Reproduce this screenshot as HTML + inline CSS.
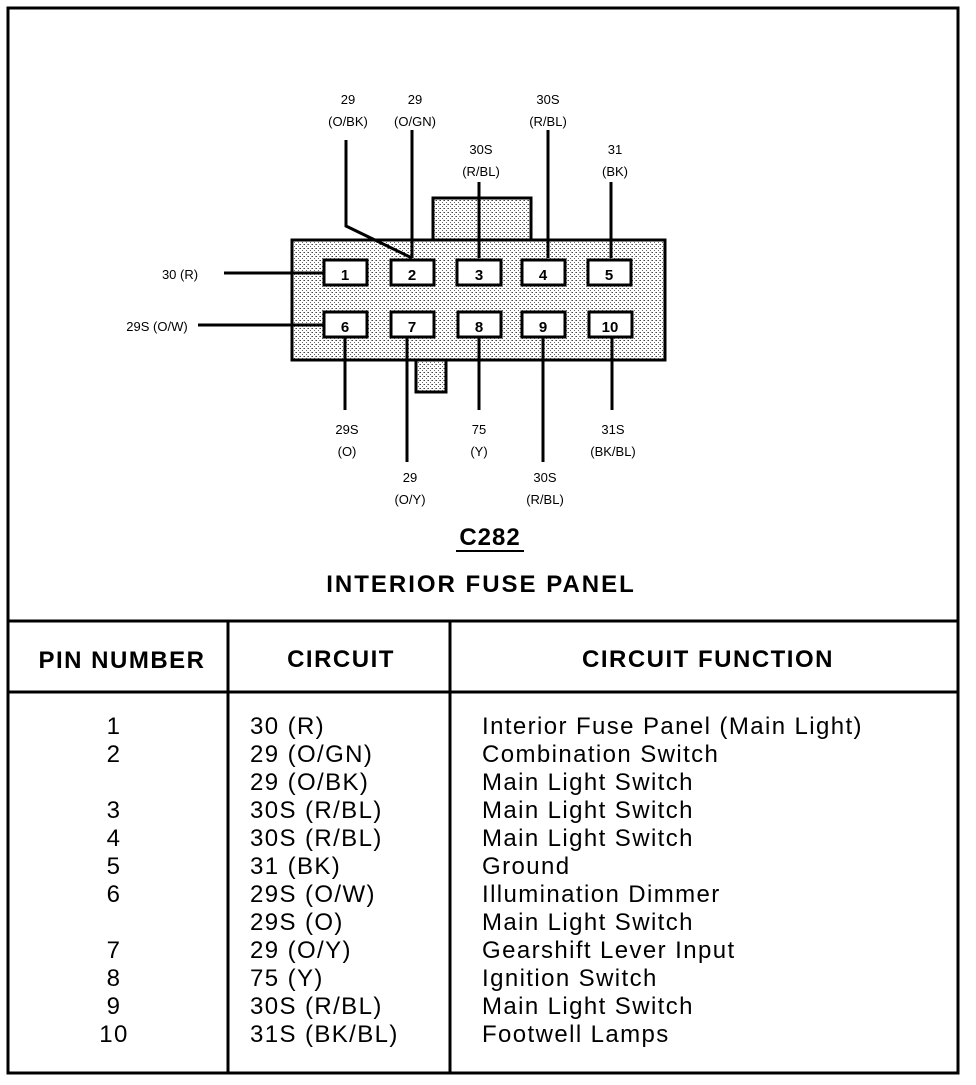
<!DOCTYPE html>
<html><head><style>
body{margin:0;background:#fff;}
svg text{font-family:"Liberation Sans",Arial,sans-serif;}
</style></head><body>
<svg width="976" height="1080" viewBox="0 0 976 1080" xmlns="http://www.w3.org/2000/svg">
<defs>
<pattern id="st" width="4" height="4" patternUnits="userSpaceOnUse">
<rect width="4" height="4" fill="#fff"/><rect x="0" y="0" width="1" height="1" fill="#444"/><rect x="2" y="2" width="1" height="1" fill="#666"/><rect x="3" y="0" width="1" height="1" fill="#999"/>
</pattern>
</defs>
<rect x="8" y="8" width="950" height="1065" fill="none" stroke="#000" stroke-width="3"/>
<line x1="8" y1="621" x2="958" y2="621" stroke="#000" stroke-width="3"/>
<line x1="8" y1="692" x2="958" y2="692" stroke="#000" stroke-width="3"/>
<line x1="228" y1="621" x2="228" y2="1073" stroke="#000" stroke-width="3"/>
<line x1="450" y1="621" x2="450" y2="1073" stroke="#000" stroke-width="3"/>
<g stroke="#000" stroke-width="3" fill="url(#st)">
<rect x="433" y="198" width="98" height="44"/>
<rect x="416" y="358" width="30" height="34"/>
<rect x="292" y="240" width="373" height="120"/>
</g>
<g stroke="#000" stroke-width="3" fill="none">
<line x1="224" y1="273" x2="323" y2="273"/>
<line x1="198" y1="325" x2="323" y2="325"/>
<polyline points="346,140 346,226 412,258"/>
<line x1="412" y1="130" x2="412" y2="258"/>
<line x1="479" y1="182" x2="479" y2="258"/>
<line x1="548" y1="130" x2="548" y2="258"/>
<line x1="611" y1="182" x2="611" y2="258"/>
<line x1="345" y1="336" x2="345" y2="410"/>
<line x1="407" y1="336" x2="407" y2="462"/>
<line x1="479" y1="336" x2="479" y2="410"/>
<line x1="543" y1="336" x2="543" y2="462"/>
<line x1="612" y1="336" x2="612" y2="410"/>
</g>
<g stroke="#000" stroke-width="3" fill="#fff">
<rect x="324" y="260" width="43" height="25"/>
<rect x="391" y="260" width="43" height="25"/>
<rect x="457" y="260" width="44" height="25"/>
<rect x="522" y="260" width="43" height="25"/>
<rect x="588" y="260" width="43" height="25"/>
<rect x="324" y="312" width="43" height="25"/>
<rect x="391" y="312" width="43" height="25"/>
<rect x="458" y="312" width="43" height="25"/>
<rect x="522" y="312" width="43" height="25"/>
<rect x="589" y="312" width="43" height="25"/>
</g>
<g font-size="15" font-weight="bold" text-anchor="middle">
<text x="345" y="280">1</text><text x="412" y="280">2</text><text x="479" y="280">3</text><text x="543" y="280">4</text><text x="609" y="280">5</text>
<text x="345" y="332">6</text><text x="412" y="332">7</text><text x="479" y="332">8</text><text x="543" y="332">9</text><text x="610" y="332">10</text>
</g>
<g font-size="13" text-anchor="middle">
<text x="348" y="104">29</text><text x="348" y="126">(O/BK)</text>
<text x="415" y="104">29</text><text x="415" y="126">(O/GN)</text>
<text x="548" y="104">30S</text><text x="548" y="126">(R/BL)</text>
<text x="481" y="154">30S</text><text x="481" y="176">(R/BL)</text>
<text x="615" y="154">31</text><text x="615" y="176">(BK)</text>
<text x="180" y="279">30 (R)</text>
<text x="157" y="331">29S (O/W)</text>
<text x="347" y="434">29S</text><text x="347" y="456">(O)</text>
<text x="479" y="434">75</text><text x="479" y="456">(Y)</text>
<text x="613" y="434">31S</text><text x="613" y="456">(BK/BL)</text>
<text x="410" y="482">29</text><text x="410" y="504">(O/Y)</text>
<text x="545" y="482">30S</text><text x="545" y="504">(R/BL)</text>
</g>
<text x="490" y="545" font-size="24" font-weight="bold" text-anchor="middle" letter-spacing="1">C282</text>
<line x1="456" y1="551" x2="524" y2="551" stroke="#000" stroke-width="2"/>
<text x="481" y="592" font-size="24" font-weight="bold" text-anchor="middle" letter-spacing="2">INTERIOR FUSE PANEL</text>
<g font-size="24" font-weight="bold" text-anchor="middle" letter-spacing="1.5">
<text x="122" y="668">PIN NUMBER</text>
<text x="341" y="667">CIRCUIT</text>
<text x="708" y="667">CIRCUIT FUNCTION</text>
</g>
<g font-size="24" letter-spacing="1.4">
<g text-anchor="middle">
<text x="114" y="734">1</text><text x="114" y="762">2</text><text x="114" y="818">3</text><text x="114" y="846">4</text><text x="114" y="874">5</text><text x="114" y="902">6</text><text x="114" y="958">7</text><text x="114" y="986">8</text><text x="114" y="1014">9</text><text x="114" y="1042">10</text>
</g>
<text x="250" y="734">30 (R)</text><text x="250" y="762">29 (O/GN)</text><text x="250" y="790">29 (O/BK)</text><text x="250" y="818">30S (R/BL)</text><text x="250" y="846">30S (R/BL)</text><text x="250" y="874">31 (BK)</text><text x="250" y="902">29S (O/W)</text><text x="250" y="930">29S (O)</text><text x="250" y="958">29 (O/Y)</text><text x="250" y="986">75 (Y)</text><text x="250" y="1014">30S (R/BL)</text><text x="250" y="1042">31S (BK/BL)</text>
<text x="482" y="734">Interior Fuse Panel (Main Light)</text><text x="482" y="762">Combination Switch</text><text x="482" y="790">Main Light Switch</text><text x="482" y="818">Main Light Switch</text><text x="482" y="846">Main Light Switch</text><text x="482" y="874">Ground</text><text x="482" y="902">Illumination Dimmer</text><text x="482" y="930">Main Light Switch</text><text x="482" y="958">Gearshift Lever Input</text><text x="482" y="986">Ignition Switch</text><text x="482" y="1014">Main Light Switch</text><text x="482" y="1042">Footwell Lamps</text>
</g>
</svg>
</body></html>
